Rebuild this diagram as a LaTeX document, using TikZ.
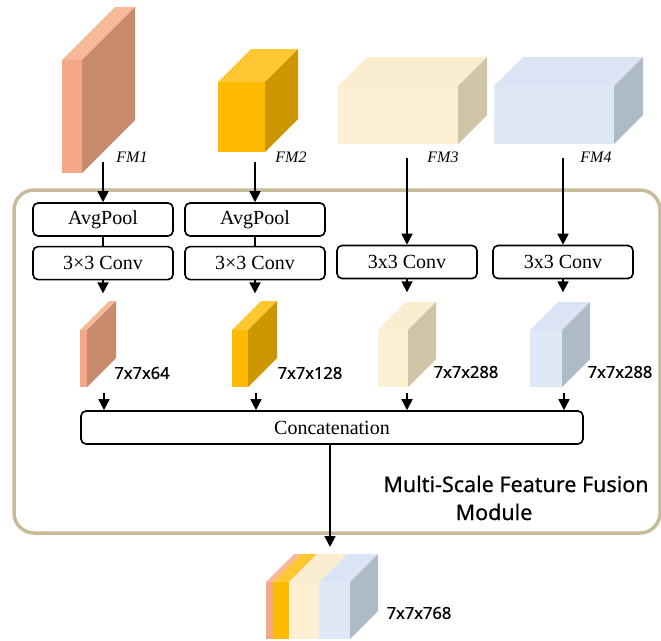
\documentclass[tikz,border=0pt]{standalone}
\usepackage{fontspec}
\setmainfont{Liberation Serif}
\newfontfamily\dimfont[FakeBold=0.6]{Noto Sans}
\usepackage{tikz}
\usetikzlibrary{arrows.meta,calc,positioning}

\definecolor{frontsalmon}{HTML}{F4A886}
\definecolor{topsalmon}{HTML}{F7B899}
\definecolor{sidesalmon}{HTML}{C88A6D}
\definecolor{frontgold}{HTML}{FFBA00}
\definecolor{topgold}{HTML}{FFC833}
\definecolor{sidegold}{HTML}{CC9600}
\definecolor{frontbeige}{HTML}{FDF0D2}
\definecolor{topbeige}{HTML}{FBEDCF}
\definecolor{sidebeige}{HTML}{CFC4A5}
\definecolor{frontblue}{HTML}{DEE8F7}
\definecolor{topblue}{HTML}{DAE4F4}
\definecolor{sideblue}{HTML}{AFBAC9}
\definecolor{frametan}{HTML}{C8BB99}

\tikzset{opbox/.style={draw,
    rounded corners=5pt,
    line width=1.6pt,
    minimum width=140pt,
    minimum height=33pt,
    inner sep=0pt,
    font=\fontsize{20}{24}\selectfont
  },
  flow/.style={line width=1.7pt, -{Triangle[width=11pt,length=11pt]}},
  link/.style={line width=1.7pt},
  frame/.style={draw=frametan, line width=3.5pt, rounded corners=20pt},
  fmlabel/.style={font=\fontsize{16}{19}\selectfont\itshape},
  dimlabel/.style={font=\dimfont\fontsize{16.5}{19}\selectfont},
  title/.style={font=\dimfont\fontsize{21.5}{25}\selectfont}
}

% x, y bottom, width, height, depth, colour
\newcommand{\fmblock}[6]{%
  \fill[front#6] (#1,#2) rectangle ++(#3,-#4);
  \fill[top#6] (#1,#2-#4) -- ++(#5,-#5) -- ++(#3,0) -- ++(-#5,#5) -- cycle;
  \fill[side#6] (#1+#3,#2) -- ++(0,-#4) -- ++(#5,-#5) -- ++(0,#4) -- cycle;
}

\begin{document}
\begin{tikzpicture}[x=1pt,y=-1pt]
    \clip (0,0) rectangle (661,640);
    \draw[frame] (14,190) rectangle (660,533);

    % input feature maps
    \fmblock{62}{173}{20}{113}{53}{salmon}
    \fmblock{218}{152}{47}{70}{33}{gold}
    \fmblock{338}{144}{120}{58}{29}{beige}
    \fmblock{494}{144}{120}{58}{29}{blue}
    \node[fmlabel] (fm1) at (132,157) {FM1};
    \node[fmlabel] (fm2) at (291,157) {FM2};
    \node[fmlabel] (fm3) at (443,157) {FM3};
    \node[fmlabel] (fm4) at (596,157) {FM4};

    % operations
    \node[opbox] (pool1) at (103,219.5) {AvgPool};
    \node[opbox, below=9pt of pool1] (conv1) {3×3 Conv};
    \node[opbox] (pool2) at (255,219.5) {AvgPool};
    \node[opbox, below=9pt of pool2] (conv2) {3×3 Conv};
    \node[opbox] (conv3) at (407,262) {3x3 Conv};
    \node[opbox] (conv4) at (563,262) {3x3 Conv};
    \node[opbox, minimum width=502pt] (concat) at (332,427.5) {Concatenation};

    \coordinate (in1) at (103,162);
    \coordinate (in2) at (255,162);
    \coordinate (in3) at (407,158);
    \coordinate (in4) at (563,158);
    \draw[flow] (in1) -- (pool1);
    \draw[flow] (in2) -- (pool2);
    \draw[flow] (in3) -- (conv3);
    \draw[flow] (in4) -- (conv4);
    \draw[link] (pool1) -- (conv1);
    \draw[link] (pool2) -- (conv2);

    \foreach \i in {1,...,4} {
        \coordinate (red\i) at ($(conv\i.south)+(0,13)$);
        \draw[flow] (conv\i) -- (red\i);
    }

    % reduced feature maps
    \fmblock{80}{387}{7}{57}{29}{salmon}
    \fmblock{232}{387}{16}{57}{29}{gold}
    \fmblock{378}{387}{30}{57}{28}{beige}
    \fmblock{530}{387}{32}{57}{28}{blue}
    \node[dimlabel] (dim1) at (142,373) {7x7x64};
    \node[dimlabel] (dim2) at (310,373) {7x7x128};
    \node[dimlabel] (dim3) at (466,372) {7x7x288};
    \node[dimlabel] (dim4) at (620,372) {7x7x288};

    \foreach \i/\x in {1/104,2/256,3/407,4/564} {
        \coordinate (cat\i) at (\x,393);
        \draw[flow] (cat\i) -- (cat\i |- concat.north);
    }

    % fused output
    \coordinate (fused) at (330,547);
    \draw[flow] (fused |- concat.south) -- (fused);
    \foreach \xa/\xb/\fm in {266/273/salmon,273/289/gold,289/319/beige,319/350/blue} {
        \fill[front\fm] (\xa,582) rectangle (\xb,639);
        \fill[top\fm] (\xa,582) -- (\xa+28,554) -- (\xb+28,554) -- (\xb,582) -- cycle;
    }
    \fill[sideblue] (350,639) -- (350,582) -- (378,554) -- (378,611) -- cycle;
    \node[dimlabel] (dim5) at (419,613) {7x7x768};

    \node[title, anchor=base] (title1) at (516,492) {Multi-Scale Feature Fusion};
    \node[title, anchor=base] (title2) at (494,520) {Module};
\end{tikzpicture}
\end{document}
